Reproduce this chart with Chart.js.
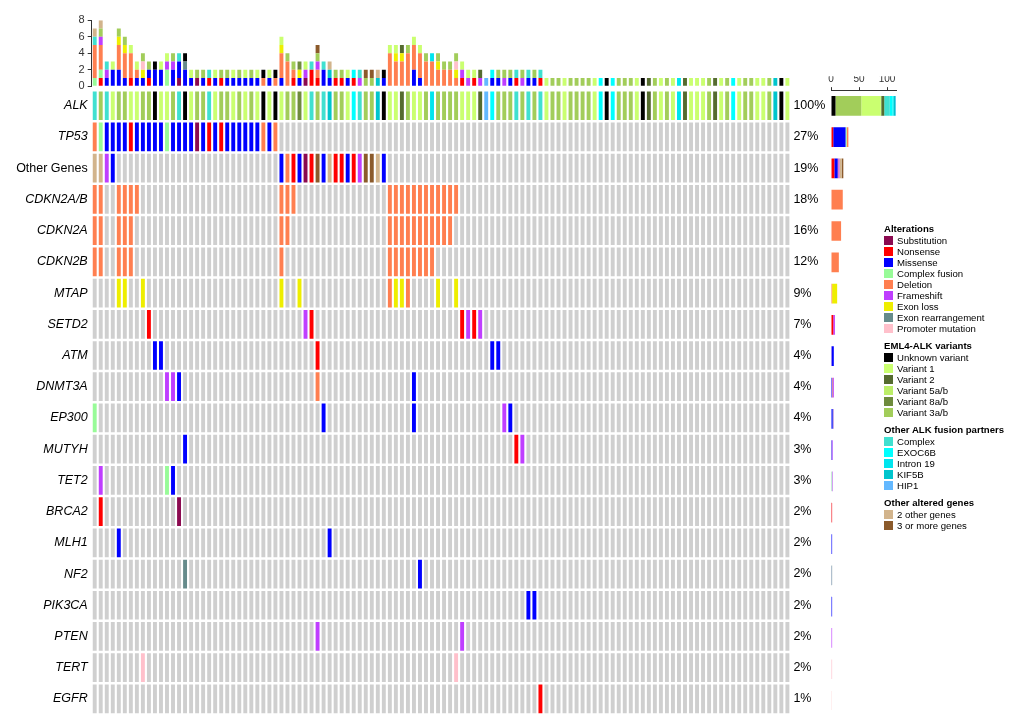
<!DOCTYPE html>
<html lang="en">
<head>
<meta charset="UTF-8">
<title>ALK cohort oncoprint</title>
<style>
    body { margin: 0; background: #fff; font-family: Arial, 'Liberation Sans', sans-serif; }
    canvas.layer { position: absolute; left: 0; top: 0; }
    #legend { position: absolute; left: 884px; top: 223px; font-size: 9.6px; color: #000; }
    #legend .title { font-weight: bold; height: 12px; line-height: 12px; margin-top: 6px; }
    #legend .title:first-child { margin-top: 0; }
    #legend .item { height: 11px; line-height: 11px; display: flex; align-items: center; }
    #legend .sw { width: 9px; height: 9px; margin-right: 4px; }
</style>
<script src="https://cdn.jsdelivr.net/npm/chart.js"></script>
</head>
<body>
<canvas id="matrix" class="layer" width="1020" height="726"></canvas>
<canvas id="topBars" class="layer" width="1020" height="726"></canvas>
<canvas id="rightBars" class="layer" width="1020" height="726"></canvas>
<div id="legend"></div>
<script>
const FONT = "Arial, 'Liberation Sans', sans-serif";
const nSamples = 116;

const genes = ['ALK', 'TP53', 'Other Genes', 'CDKN2A/B', 'CDKN2A', 'CDKN2B', 'MTAP', 'SETD2', 'ATM', 'DNMT3A',
               'EP300', 'MUTYH', 'TET2', 'BRCA2', 'MLH1', 'NF2', 'PIK3CA', 'PTEN', 'TERT', 'EGFR'];
const percentLabels = ['100%', '27%', '19%', '18%', '16%', '12%', '9%', '7%', '4%', '4%',
                       '4%', '3%', '3%', '2%', '2%', '2%', '2%', '2%', '2%', '1%'];

// alteration codes
const typeNames = {
    S: 'Substitution', N: 'Nonsense', M: 'Missense', C: 'Complex fusion', D: 'Deletion',
    F: 'Frameshift', E: 'Exon loss', R: 'Exon rearrangement', P: 'Promoter mutation',
    U: 'Unknown variant', '1': 'Variant 1', '2': 'Variant 2', '5': 'Variant 5a/b', '8': 'Variant 8a/b', '3': 'Variant 3a/b',
    c: 'Complex', x: 'EXOC6B', i: 'Intron 19', k: 'KIF5B', h: 'HIP1',
    t: '2 other genes', T: '3 or more genes'
};
const typeColors = {
    S: '#8B0A50', N: '#FF0000', M: '#0000FF', C: '#98FB98', D: '#FF7F50',
    F: '#BF3EFF', E: '#EEEE00', R: '#668B8B', P: '#FFC0CB',
    U: '#000000', '1': '#CAFF70', '2': '#556B2F', '5': '#BCEE68', '8': '#6E8B3D', '3': '#A2CD5A',
    c: '#40E0D0', x: '#00FFFF', i: '#00E5EE', k: '#00C5CD', h: '#63B8FF',
    t: '#D2B48C', T: '#8B5A2B'
};
const stackOrder = ['S', 'N', 'M', 'C', 'D', 'F', 'E', 'R', 'P', 'U', '3', '1', '5', '8', '2', 'c', 'x', 'i', 'k', 'h', 't', 'T'];
const noAlteration = '#CFCFCF';

// ALK fusion per sample, one character per sample
const ALK = 'c3c1331133' + 'U113cU133c' + '13313131U1' + 'U13381c3ck' + '331xc33kU1' +
            '123113i333' + '31112hx333' + 'c3c3c13313' + '3331xUx333' + '1U23131i21' +
            '113213x133' + '113kU1';

// other genes: alteration code -> sample indices (0-based)
const TP53 = { D: [0, 28, 30], C: [1, 12], S: [17], N: [6, 19, 21],
               M: [2, 3, 4, 5, 7, 8, 9, 10, 11, 13, 14, 15, 16, 18, 20, 22, 23, 24, 25, 26, 27, 29] };
const OTHER = { t: [0, 1, 39, 47], T: [37, 45, 46], F: [2, 44], M: [3, 31, 34, 38, 42, 48],
                N: [33, 36, 40, 41, 43], D: [32], S: [35] };
const CDKN2AB = { D: [0, 1, 4, 5, 6, 7, 31, 32, 33, 49, 50, 51, 52, 53, 54, 55, 56, 57, 58, 59, 60] };
const CDKN2A = { D: [0, 1, 4, 5, 6, 31, 32, 49, 50, 51, 52, 53, 54, 55, 56, 57, 58, 59] };
const CDKN2B = { D: [0, 1, 4, 5, 6, 31, 49, 50, 51, 52, 53, 54, 55, 56] };
const MTAP = { E: [4, 5, 8, 31, 34, 50, 51, 57, 60], D: [49, 52] };
const SETD2 = { N: [9, 36, 61, 63], F: [35, 62, 64] };
const ATM = { M: [10, 11, 66, 67], N: [37] };
const DNMT3A = { F: [12, 13], M: [14, 53], D: [37] };
const EP300 = { C: [0], M: [38, 53, 69], F: [68] };
const MUTYH = { M: [15], N: [70], F: [71] };
const TET2 = { F: [1], C: [12], M: [13] };
const BRCA2 = { N: [1], S: [14] };
const MLH1 = { M: [4, 39] };
const NF2 = { R: [15], M: [54] };
const PIK3CA = { M: [72, 73] };
const PTEN = { F: [37, 61] };
const TERT = { P: [8, 60] };
const EGFR = { N: [74] };

const geneCalls = [ALK, TP53, OTHER, CDKN2AB, CDKN2A, CDKN2B, MTAP, SETD2, ATM, DNMT3A,
                   EP300, MUTYH, TET2, BRCA2, MLH1, NF2, PIK3CA, PTEN, TERT, EGFR];

const legendSections = [
    ['Alterations', ['S', 'N', 'M', 'C', 'D', 'F', 'E', 'R', 'P']],
    ['EML4-ALK variants', ['U', '1', '2', '5', '8', '3']],
    ['Other ALK fusion partners', ['c', 'x', 'i', 'k', 'h']],
    ['Other altered genes', ['t', 'T']]
];

// expand to one row of codes per gene
function toRow(spec) {
    const row = new Array(nSamples).fill(null);
    if (typeof spec === 'string') {
        spec.split('').forEach((code, i) => { row[i] = code; });
    } else {
        Object.keys(spec).forEach(code => spec[code].forEach(i => { row[i] = code; }));
    }
    return row;
}
const rows = geneCalls.map(toRow);
const sampleIds = rows[0].map((_, i) => 'S' + (i + 1));

// counts per sample (top) and per gene (right)
const perSample = {}, perGene = {};
stackOrder.forEach(code => {
    perSample[code] = sampleIds.map((_, s) => rows.filter(r => r[s] === code).length);
    perGene[code] = rows.map(r => r.filter(c => c === code).length);
});

// ---- matrix ----
const geneTicks = s => { s.ticks = genes.map((g, i) => ({ value: i + 0.5 })); };
new Chart(document.getElementById('matrix'), {
    type: 'bar',
    data: {
        labels: sampleIds,
        datasets: rows.map((row, r) => ({
            label: genes[r],
            data: row.map(() => [r + 0.04, r + 0.96]),
            backgroundColor: row.map(code => code ? typeColors[code] : noAlteration)
        }))
    },
    options: {
        responsive: false,
        animation: false,
        layout: { padding: { left: 0, right: 189.6, top: 90.15, bottom: 9.8 } },
        datasets: { bar: { grouped: false, barPercentage: 0.65, categoryPercentage: 1, borderWidth: 0 } },
        plugins: { legend: { display: false }, tooltip: { enabled: false } },
        scales: {
            x: { display: false },
            y: {
                min: 0, max: 20, reverse: true,
                afterBuildTicks: geneTicks,
                afterFit: s => { s.width = 91.7; },
                grid: { display: false, drawTicks: false },
                border: { display: false },
                ticks: {
                    autoSkip: false, padding: 4, color: '#000',
                    font: ctx => ({ family: FONT, size: 12.5, style: ctx.index === 2 ? 'normal' : 'italic' }),
                    callback: (v, i) => genes[i]
                }
            },
            y2: {
                position: 'right',
                min: 0, max: 20, reverse: true,
                afterBuildTicks: geneTicks,
                afterFit: s => { s.width = 40; },
                grid: { display: false, drawTicks: false },
                border: { display: false },
                ticks: {
                    autoSkip: false, padding: 3, color: '#000',
                    font: { family: FONT, size: 12.5 },
                    callback: (v, i) => percentLabels[i]
                }
            }
        }
    }
});

// ---- alterations per sample ----
new Chart(document.getElementById('topBars'), {
    type: 'bar',
    data: {
        labels: sampleIds,
        datasets: stackOrder.map(code => ({
            label: typeNames[code],
            data: perSample[code],
            backgroundColor: typeColors[code]
        }))
    },
    options: {
        responsive: false,
        animation: false,
        layout: { padding: { left: 0, right: 229.6, top: 20.3, bottom: 639.7 } },
        datasets: { bar: { barPercentage: 0.65, categoryPercentage: 1, borderWidth: 0 } },
        plugins: { legend: { display: false }, tooltip: { enabled: false } },
        scales: {
            x: { stacked: true, display: false },
            y: {
                stacked: true, min: 0, max: 8,
                afterFit: s => { s.width = 91.7; },
                ticks: { stepSize: 2, padding: 3, color: '#333', font: { family: FONT, size: 11 } },
                grid: { drawOnChartArea: false, tickLength: 4, color: '#333' },
                border: { display: true, color: '#333' }
            }
        }
    }
});

// ---- altered samples per gene ----
new Chart(document.getElementById('rightBars'), {
    type: 'bar',
    data: {
        labels: genes,
        datasets: stackOrder.map(code => ({
            label: typeNames[code],
            data: perGene[code],
            backgroundColor: typeColors[code]
        }))
    },
    options: {
        indexAxis: 'y',
        responsive: false,
        animation: false,
        layout: { padding: { left: 831, right: 124, top: 76.15, bottom: 9.8 } },
        datasets: { bar: { barPercentage: 0.63, categoryPercentage: 1, borderWidth: 0 } },
        plugins: { legend: { display: false }, tooltip: { enabled: false } },
        scales: {
            y: { stacked: true, display: false },
            x: {
                stacked: true, position: 'top', min: 0, max: nSamples,
                afterBuildTicks: s => { s.ticks = [0, 50, 100].map(v => ({ value: v })); },
                afterFit: s => { s.height = 14; },
                ticks: { padding: 2, color: '#333', font: { family: FONT, size: 10 } },
                grid: { drawOnChartArea: false, tickLength: 3, color: '#333' },
                border: { display: true, color: '#333' }
            }
        }
    }
});

// ---- legend ----
const legend = document.getElementById('legend');
legendSections.forEach(([title, codes]) => {
    const t = document.createElement('div');
    t.className = 'title';
    t.textContent = title;
    legend.appendChild(t);
    codes.forEach(code => {
        const item = document.createElement('div');
        item.className = 'item';
        item.innerHTML = '<span class="sw" style="background:' + typeColors[code] + '"></span>' + typeNames[code];
        legend.appendChild(item);
    });
});
</script>
</body>
</html>
